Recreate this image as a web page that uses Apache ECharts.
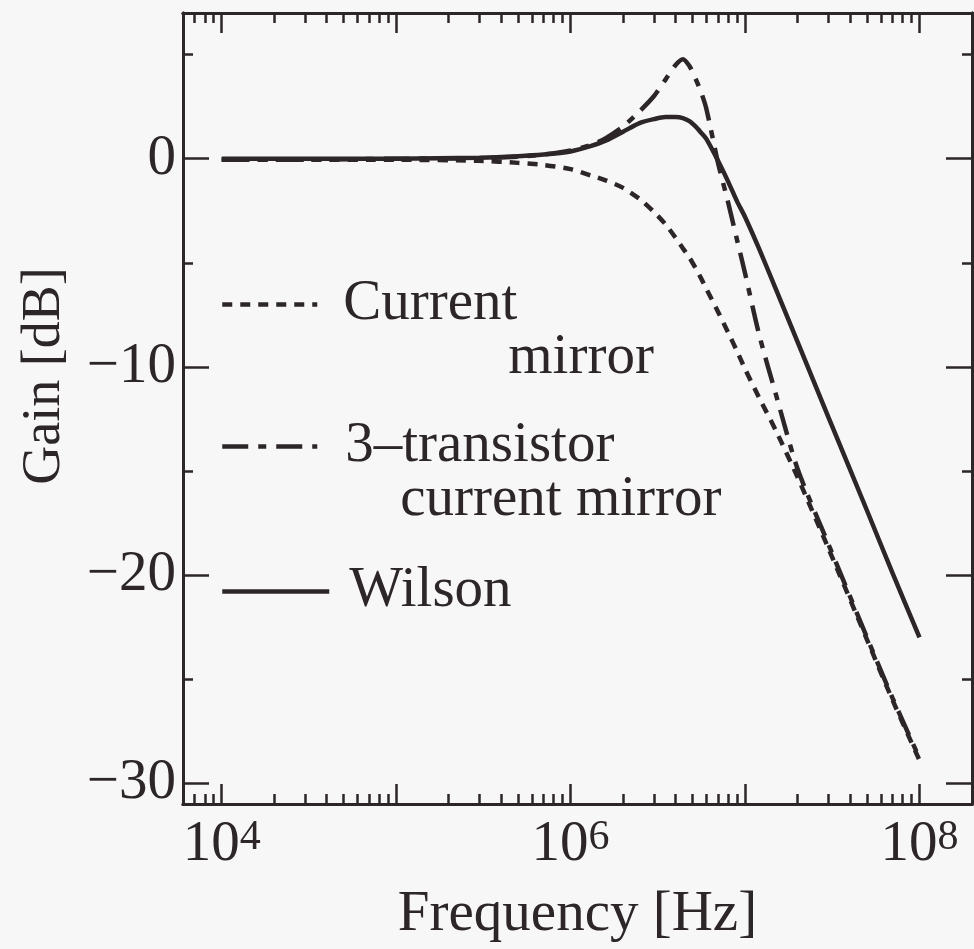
<!DOCTYPE html>
<html>
<head>
<meta charset="utf-8">
<script src="https://cdn.jsdelivr.net/npm/echarts@6/dist/echarts.min.js"></script>
<style>
html,body{margin:0;padding:0;background:#f7f7f8;}
#main{width:974px;height:949px;}
</style>
</head>
<body>
<div id="main"></div>
<script>
// frequency points [Hz]
var freq = [1e4, 3e4, 1e5, 3e5, 5e5, 7e5, 1e6, 1.3e6, 1.6e6, 2e6, 2.5e6, 3e6, 3.5e6, 4e6, 4.4e6, 4.8e6,
  5.2e6, 5.6e6, 6e6, 7e6, 8e6, 9e6, 1e7, 1.2e7, 1.5e7, 2e7, 3e7, 5e7, 7e7, 1e8];
// gain [dB]
var gainMirror = [-0.05, -0.05, -0.05, -0.1, -0.2, -0.3, -0.5, -0.8, -1.05, -1.4, -1.95, -2.55, -3.15, -3.8, -4.3, -4.75,
  -5.25, -5.75, -6.25, -7.35, -8.35, -9.25, -10.1, -11.45, -13.05, -15.3, -18.7, -23.1, -26.0, -28.9];
var gain3Tr = [-0.05, -0.05, 0, 0.02, 0.1, 0.2, 0.4, 0.65, 1.0, 1.55, 2.3, 3.0, 3.8, 4.5, 4.78, 4.45,
  3.85, 3.2, 2.4, -0.2, -2.1, -3.9, -5.5, -8.4, -11.3, -14.9, -18.5, -23.0, -25.9, -28.8];
var gainWilson = [0, 0, 0, 0.05, 0.12, 0.2, 0.35, 0.6, 0.88, 1.3, 1.72, 1.9, 2.0, 2.0, 1.95, 1.8,
  1.55, 1.25, 0.95, -0.1, -1.1, -2.05, -2.8, -4.3, -6.25, -8.8, -12.4, -16.9, -19.9, -23.0];

var seriesNames = ['Current mirror', '3-transistor current mirror', 'Wilson'];

// ticks
var xMajor = [1e4, 1e5, 1e6, 1e7, 1e8];
var xLabels = [1e4, 1e6, 1e8];
var xMinor = [7e3, 8e3, 9e3];
[1e4, 1e5, 1e6, 1e7].forEach(function (d) {
  for (var k = 2; k <= 9; k++) xMinor.push(k * d);
});
var yMajor = [-30, -20, -10, 0];
var yMinor = [-25, -15, -5, 5];

var ink = '#2d2628';
var serif = '"Liberation Serif", "DejaVu Serif", serif';
var fs = 57;
var lw = 4.5;

function pairs(ys) {
  return freq.map(function (f, i) { return [f, ys[i]]; });
}

function xAx(pos, ticks, len, extra) {
  var a = {
    type: 'log', logBase: 10, min: 6000, max: 2e8, position: pos,
    splitLine: { show: false },
    axisLine: { show: true, onZero: false, lineStyle: { color: ink, width: 3 } },
    axisTick: { show: true, inside: true, length: len, customValues: ticks, lineStyle: { color: ink, width: 2.5 } },
    axisLabel: { show: false }
  };
  return Object.assign(a, extra || {});
}
function yAx(pos, ticks, len, extra) {
  var a = {
    type: 'value', min: -31, max: 7, position: pos,
    splitLine: { show: false },
    axisLine: { show: true, onZero: false, lineStyle: { color: ink, width: 3 } },
    axisTick: { show: true, inside: true, length: len, customValues: ticks, lineStyle: { color: ink, width: 2.5 } },
    axisLabel: { show: false }
  };
  return Object.assign(a, extra || {});
}

function legendText(rich) {
  var r = {};
  Object.keys(rich).forEach(function (k) {
    r[k] = { fontFamily: serif, fontSize: fs, color: ink, lineHeight: 54, padding: [0, 0, 0, rich[k]] };
  });
  return { fontFamily: serif, fontSize: fs, color: ink, lineHeight: 54, rich: r };
}

var chart = echarts.init(document.getElementById('main'));
var option = {
  animation: false,
  backgroundColor: '#f7f7f8',
  grid: { left: 183, right: 2, top: 13, bottom: 142, containLabel: false },
  xAxis: [
    xAx('bottom', xMajor, 20, {
      name: 'Frequency [Hz]', nameLocation: 'middle', nameGap: 83,
      nameTextStyle: { fontFamily: serif, fontSize: fs, color: ink },
      axisLabel: {
        show: true, customValues: xLabels, margin: 13,
        formatter: function (v) { return '{b|10}{s|' + Math.round(Math.log10(v)) + '}'; },
        rich: {
          b: { fontFamily: serif, fontSize: fs, color: ink, lineHeight: 57 },
          s: { fontFamily: serif, fontSize: 42, color: ink, verticalAlign: 'top' }
        }
      }
    }),
    xAx('bottom', xMinor, 10),
    xAx('top', xMajor, 20),
    xAx('top', xMinor, 10)
  ],
  yAxis: [
    yAx('left', yMajor, 26, {
      axisLabel: {
        show: true, customValues: yMajor, margin: 7,
        fontFamily: serif, fontSize: fs, color: ink,
        formatter: function (v) { return String(v).replace('-', '\u2212'); }
      }
    }),
    yAx('left', yMinor, 10),
    yAx('right', yMajor, 26),
    yAx('right', yMinor, 10)
  ],
  graphic: [{
    type: 'text', x: 45, y: 376, rotation: Math.PI / 2,
    style: { text: 'Gain [dB]', fontFamily: serif, fontSize: 54, fill: ink, align: 'center', verticalAlign: 'middle' }
  }],
  legend: [
    {
      data: [seriesNames[0]], left: 220, top: 222, padding: 0, itemWidth: 95, itemHeight: 14, selectedMode: false,
      itemStyle: { opacity: 0 }, lineStyle: { width: lw },
      textStyle: legendText({ a: 21, b: 186 }),
      formatter: function () { return '\n{a|Current}\n{b|mirror}'; }
    },
    {
      data: [seriesNames[1]], left: 220, top: 364, padding: 0, itemWidth: 95, itemHeight: 14, selectedMode: false,
      itemStyle: { opacity: 0 }, lineStyle: { width: lw },
      textStyle: legendText({ a: 23, b: 78 }),
      formatter: function () { return '\n{a|3\u2013transistor}\n{b|current mirror}'; }
    },
    {
      data: [seriesNames[2]], left: 220, top: 563, padding: 0, itemWidth: 107, itemHeight: 14, selectedMode: false,
      itemStyle: { opacity: 0 }, lineStyle: { width: lw },
      textStyle: legendText({ a: 15 }),
      formatter: function () { return '{a|Wilson}'; }
    }
  ],
  series: [
    {
      name: seriesNames[0], type: 'line', data: pairs(gainMirror), smooth: 0.25, symbol: 'none',
      lineStyle: { color: ink, width: lw, type: [10, 8] }, itemStyle: { color: ink }
    },
    {
      name: seriesNames[1], type: 'line', data: pairs(gain3Tr), smooth: 0.25, symbol: 'none',
      lineStyle: { color: ink, width: lw, type: [26, 10, 8, 10] }, itemStyle: { color: ink }
    },
    {
      name: seriesNames[2], type: 'line', data: pairs(gainWilson), smooth: 0.25, symbol: 'none',
      lineStyle: { color: ink, width: lw, type: 'solid' }, itemStyle: { color: ink }
    }
  ]
};
chart.setOption(option);
</script>
</body>
</html>
